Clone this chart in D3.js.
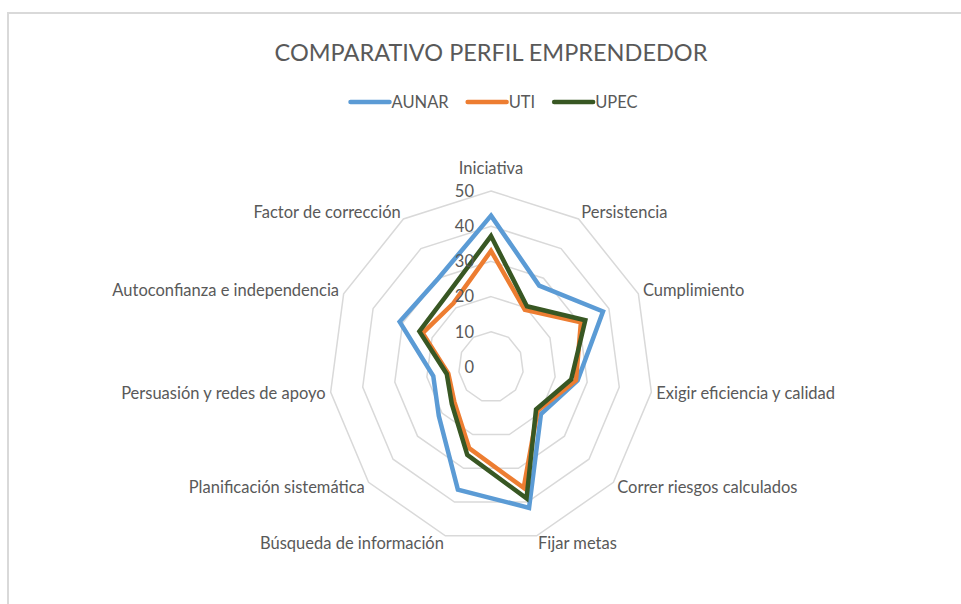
<!DOCTYPE html>
<html>
<head>
<meta charset="utf-8">
<script src="https://cdn.jsdelivr.net/npm/d3@7"></script>
<style>
  body { margin: 0; background: #fff; }
  svg { display: block; font-family: Lato, "Open Sans", sans-serif; }
</style>
</head>
<body>
<script>
// data
const categories = [
  "Iniciativa", "Persistencia", "Cumplimiento", "Exigir eficiencia y calidad",
  "Correr riesgos calculados", "Fijar metas", "Búsqueda de información",
  "Planificación sistemática", "Persuasión y redes de apoyo",
  "Autoconfianza e independencia", "Factor de corrección"
];
const aunar = [43, 27.5, 38, 27, 20.4, 41.7, 36.3, 21.3, 18, 31, 30];
const uti = [33, 19.3, 30.5, 26.5, 19, 35.8, 24, 15, 13.3, 23.2, 21.5];
const upec = [37.2, 20.5, 32, 25, 18.4, 38.9, 26, 16, 13.8, 24.3, 24.7];
const seriesNames = ["AUNAR", "UTI", "UPEC"];
const seriesColors = ["#5b9bd5", "#ed7d31", "#385723"];
const radialTicks = [0, 10, 20, 30, 40, 50];
const titleText = "COMPARATIVO PERFIL EMPRENDEDOR";

const width = 961, height = 604;
const cx = 491, cy = 367;
const textColor = "#595959";
const gridColor = "#d9d9d9";

// picture is slightly squeezed horizontally, so separate x/y radii
const rx = d3.scaleLinear().domain([0, 50]).range([0, 162]);
const ry = d3.scaleLinear().domain([0, 50]).range([0, 176]);
const angle = d3.scaleLinear().domain([0, categories.length]).range([0, 2 * Math.PI]);
const px = (i, v) => cx + Math.sin(angle(i)) * rx(v);
const py = (i, v) => cy - Math.cos(angle(i)) * ry(v);

const svg = d3.select("body").append("svg")
  .attr("width", width)
  .attr("height", height);

// chart area border (only top and left show in the crop)
svg.append("path")
  .attr("d", `M8,${height + 5}V13H${width + 5}`)
  .attr("fill", "none")
  .attr("stroke", gridColor)
  .attr("stroke-width", 2);

// title
svg.append("text")
  .attr("x", cx)
  .attr("y", 61)
  .attr("text-anchor", "middle")
  .attr("fill", textColor)
  .attr("font-size", 23.5)
  .text(titleText);

// legend
const legend = svg.append("g");
let lx = 0;
seriesNames.forEach((name, k) => {
  const g = legend.append("g").attr("transform", `translate(${lx},0)`);
  g.append("line")
    .attr("x1", 2).attr("x2", 41)
    .attr("y1", 0).attr("y2", 0)
    .attr("stroke", seriesColors[k])
    .attr("stroke-width", 4.5)
    .attr("stroke-linecap", "round");
  const t = g.append("text")
    .attr("x", 43)
    .attr("dy", "0.35em")
    .attr("fill", textColor)
    .attr("font-size", 16.5)
    .text(name);
  lx += 43 + t.node().getComputedTextLength() + 17;
});
legend.attr("transform", `translate(${493 - (lx - 17) / 2},102)`);

// grid rings
const ringLine = d3.line().curve(d3.curveLinearClosed);
svg.append("g")
  .selectAll("path")
  .data(radialTicks.filter(d => d > 0))
  .join("path")
  .attr("d", v => ringLine(categories.map((c, i) => [px(i, v), py(i, v)])))
  .attr("fill", "none")
  .attr("stroke", gridColor)
  .attr("stroke-width", 1.5);

// category labels
svg.append("g")
  .selectAll("text")
  .data(categories)
  .join("text")
  .attr("x", (c, i) => px(i, 50) + Math.sin(angle(i)) * 5)
  .attr("y", (c, i) => {
    const s = Math.abs(Math.sin(angle(i)));
    return py(i, 50) - Math.cos(angle(i)) * 8 - (s < 0.1 ? 15 : 0);
  })
  .attr("dy", "0.35em")
  .attr("text-anchor", (c, i) => {
    const s = Math.sin(angle(i));
    return Math.abs(s) < 0.1 ? "middle" : (s > 0 ? "start" : "end");
  })
  .attr("fill", textColor)
  .attr("font-size", 16.5)
  .text(d => d);

// series
const seriesData = [aunar, uti, upec];
const line = d3.line().curve(d3.curveLinearClosed);
svg.append("g")
  .selectAll("path")
  .data(seriesData)
  .join("path")
  .attr("d", vals => line(vals.map((v, i) => [px(i, v), py(i, v)])))
  .attr("fill", "none")
  .attr("stroke", (d, k) => seriesColors[k])
  .attr("stroke-width", 4.5)
  .attr("stroke-linejoin", "miter");

// radial tick labels (drawn on top, like Excel)
svg.append("g")
  .selectAll("text")
  .data(radialTicks)
  .join("text")
  .attr("x", 474)
  .attr("y", v => cy - ry(v))
  .attr("dy", "0.35em")
  .attr("text-anchor", "end")
  .attr("fill", textColor)
  .attr("font-size", 16.5)
  .text(d => d);
</script>
</body>
</html>
